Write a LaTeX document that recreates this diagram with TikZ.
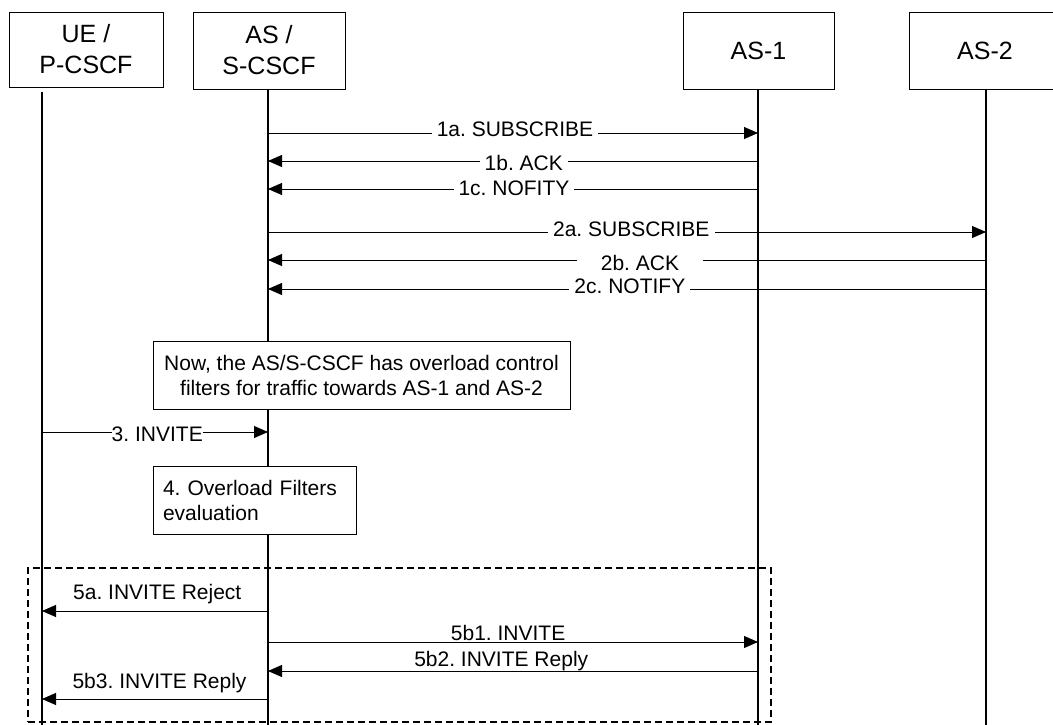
\documentclass[tikz,border=0pt]{standalone}
\usepackage{fontspec}
\setmainfont{Liberation Sans}
\usetikzlibrary{arrows.meta}
\frenchspacing

\newcommand{\msgsize}{\fontsize{21}{25}\selectfont}
\newcommand{\headsize}{\fontsize{25}{31}\selectfont}

\begin{document}
\begin{tikzpicture}[
    x=1pt, y=-1pt,
    entity/.style={rectangle, draw, line width=0.8pt, align=center,
                   inner sep=0pt, minimum height=77pt, font=\headsize},
    note/.style={rectangle, draw, line width=1pt, fill=white,
                 inner sep=0pt, minimum height=68pt, font=\msgsize},
    life/.style={line width=1.6pt},
    msg/.style={-{Triangle[length=14pt, width=12pt]}, line width=0.9pt},
    lbl/.style={fill=white, anchor=base, inner xsep=5pt, inner ysep=1pt,
                font=\msgsize},
    lblup/.style={anchor=base, inner sep=0pt, font=\msgsize},
    group/.style={draw, line width=1.5pt, dash pattern=on 7pt off 4pt,
                  inner sep=0pt},
]
\path[use as bounding box, clip] (0,0) rectangle (1053,725);

% Entities
\node[entity, minimum width=154pt, minimum height=75pt] (ue) at (86,49.5) {UE /\\P-CSCF};
\node[entity, minimum width=152pt] (as) at (269,50.5) {AS /\\S-CSCF};
\node[entity, minimum width=151pt] (as1) at (758.5,50.5) {AS-1};
\node[entity, minimum width=151pt] (as2) at (985,50.5) {AS-2};

% Lifelines
\coordinate (ueL) at (42,92);
\coordinate (asL) at (268,89);
\coordinate (as1L) at (758,89);
\coordinate (as2L) at (986,89);
\coordinate (bottom) at (0,725);
\foreach \l in {ueL,asL,as1L,as2L}
    \draw[life] (\l) -- (\l |- bottom);

% Subscriptions
\draw[msg] (asL |- 0,133) -- node[lbl, pos=0.504, yshift=-3pt] {1a. SUBSCRIBE} (as1L |- 0,133);
\draw[msg] (as1L |- 0,161) -- node[lbl, pos=0.478, yshift=-9pt] {1b. ACK} (asL |- 0,161);
\draw[msg] (as1L |- 0,189) -- node[lbl, pos=0.498, yshift=-6pt] {1c. NOFITY} (asL |- 0,189);
\draw[msg] (asL |- 0,232) -- node[lbl, pos=0.506, yshift=-4pt] {2a. SUBSCRIBE} (as2L |- 0,232);
\draw[msg] (as2L |- 0,260) -- node[lbl, pos=0.482, yshift=-10pt, inner xsep=24pt] {2b. ACK} (asL |- 0,260);
\draw[msg] (as2L |- 0,289) -- node[lbl, pos=0.496, yshift=-4pt] {2c. NOTIFY} (asL |- 0,289);

% Notes
\node[note, minimum width=417pt, align=center] (now) at (361.5,375)
    {Now, the AS/S-CSCF has overload control\\filters for traffic towards AS-1 and AS-2};
\draw[msg] (ueL |- 0,432) -- node[lbl, pos=0.51, yshift=-9pt, inner xsep=0pt] {3. INVITE} (asL |- 0,432);
\node[note, minimum width=203pt, text width=183pt, align=left] (eval) at (254.5,500)
    {4. Overload Filters\\evaluation};

% Outcomes
\node[group, minimum width=743pt, minimum height=154pt] (outcome) at (399.5,645) {};
\draw[msg] (asL |- 0,611) -- node[lblup, pos=0.49, yshift=12pt] {5a. INVITE Reject} (ueL |- 0,611);
\draw[msg] (asL |- 0,642) -- node[lblup, pos=0.49, yshift=2pt] {5b1. INVITE} (as1L |- 0,642);
\draw[msg] (as1L |- 0,671) -- node[lblup, pos=0.524, yshift=5pt] {5b2. INVITE Reply} (asL |- 0,671);
\draw[msg] (asL |- 0,699) -- node[lblup, pos=0.48, yshift=11pt] {5b3. INVITE Reply} (ueL |- 0,699);

\end{tikzpicture}
\end{document}
